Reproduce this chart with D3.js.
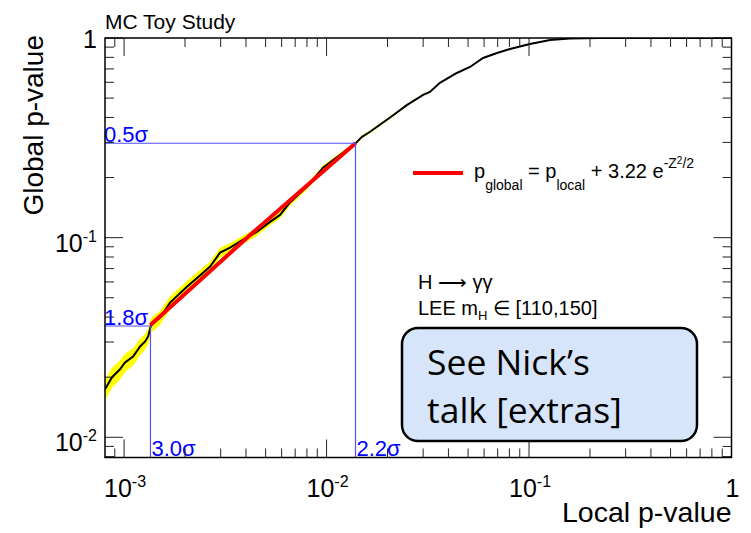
<!DOCTYPE html>
<html lang="en">
<head>
<meta charset="UTF-8">
<title>MC Toy Study</title>
<style>
  html, body { margin: 0; padding: 0; background: #fff; overflow: hidden; }
  svg text { font-family: "Liberation Sans", Arial, Helvetica, sans-serif; }
</style>
</head>
<body>
<svg id="chart" width="751" height="533"></svg>
<script src="https://cdn.jsdelivr.net/npm/d3@7/dist/d3.min.js"></script>
<script>
// toy scan: local p-value vs global p-value
const localP = [8.05e-4, 8.72e-4, 9.55e-4, 1.011e-3, 1.108e-3, 1.2e-3, 1.271e-3, 1.315e-3, 1.359e-3,
  1.507e-3, 1.687e-3, 2.05e-3, 2.37e-3, 2.66e-3, 2.98e-3, 3.34e-3, 3.87e-3, 4.54e-3, 5.26e-3,
  5.89e-3, 6.6e-3, 8.01e-3, 9.61e-3, 1.167e-2, 1.383e-2, 1.497e-2, 1.64e-2, 2.06e-2, 2.5e-2,
  3.0e-2, 3.24e-2, 3.63e-2, 4.4e-2, 5.11e-2, 5.93e-2, 6.95e-2, 8.05e-2, 0.101, 0.127, 0.159,
  0.224, 1.0];
const globalP = [0.0174, 0.0200, 0.0219, 0.0237, 0.0254, 0.0285, 0.0302, 0.0320, 0.0365,
  0.0398, 0.0473, 0.0569, 0.0646, 0.0716, 0.0841, 0.0891, 0.0977, 0.107, 0.120,
  0.130, 0.150, 0.180, 0.224, 0.260, 0.295, 0.320, 0.339, 0.400, 0.462,
  0.519, 0.537, 0.596, 0.668, 0.716, 0.794, 0.841, 0.881, 0.933, 0.977, 0.994,
  1.0, 1.0];
// relative half-width of the yellow band
const bandErr = [0.12, 0.115, 0.11, 0.105, 0.1, 0.095, 0.09, 0.09, 0.085,
  0.08, 0.075, 0.07, 0.065, 0.06, 0.058, 0.055, 0.05, 0.045, 0.042,
  0.04, 0.036, 0.032, 0.028, 0.024, 0.02, 0.018, 0.016, 0.013, 0.011,
  0.009, 0.008, 0.007, 0.006, 0.005, 0.004, 0.003, 0.002, 0.002, 0.001, 0.001,
  0, 0];

// red fit line
const fitLocal = [1.35e-3, 4.3e-3, 1.39e-2];
const fitGlobal = [0.0365, 0.1055, 0.297];

// sigma markers
const sigmaLocal = [1.35e-3, 1.39e-2];
const sigmaLocalLabel = ['3.0σ', '2.2σ'];
const sigmaGlobal = [0.0361, 0.297];
const sigmaGlobalLabel = ['1.8σ', '0.5σ'];

const xMajor = [1e-3, 1e-2, 1e-1, 1];
const xTickLabels = [['10', '-3'], ['10', '-2'], ['10', '-1'], ['1', '']];
const yMajor = [1e-2, 1e-1, 1];
const yTickLabels = [['10', '-2'], ['10', '-1'], ['1', '']];

const svg = d3.select('#chart');
const L = 105, R = 731.5, T = 38, B = 457.5;

const x = d3.scaleLog().domain([8.05e-4, 1]).range([L, R]);
const y = d3.scaleLog().domain([7.92e-3, 1]).range([B, T]);

const pts = localP.map((p, i) => ({ x: p, y: globalP[i], e: bandErr[i] }));

const plot = svg.append('g');

// clip to frame
svg.append('clipPath').attr('id', 'frame')
  .append('rect').attr('x', L).attr('y', T).attr('width', R - L).attr('height', B - T);
plot.attr('clip-path', 'url(#frame)');

// yellow band
plot.append('path')
  .datum(pts)
  .attr('fill', '#ffff00')
  .attr('d', d3.area()
    .x(d => x(d.x))
    .y0(d => y(d.y * (1 - d.e)))
    .y1(d => y(Math.min(d.y * (1 + d.e), 1))));

// black curve
plot.append('path')
  .datum(pts)
  .attr('fill', 'none')
  .attr('stroke', '#000')
  .attr('stroke-width', 2)
  .attr('d', d3.line().x(d => x(d.x)).y(d => y(d.y)));

// red fit
plot.append('path')
  .datum(fitLocal.map((p, i) => [p, fitGlobal[i]]))
  .attr('fill', 'none')
  .attr('stroke', '#ff0000')
  .attr('stroke-width', 4)
  .attr('d', d3.line().x(d => x(d[0])).y(d => y(d[1])));

// blue sigma lines
sigmaLocal.forEach((p, i) => {
  const g = sigmaGlobal[i];
  plot.append('path')
    .attr('fill', 'none')
    .attr('stroke', '#5050ff')
    .attr('stroke-width', 1.2)
    .attr('d', `M${L},${y(g)}H${x(p)}V${B}`);
  svg.append('text')
    .attr('x', L - 1).attr('y', y(g) - 1)
    .attr('font-size', 22).attr('fill', '#0000ff')
    .text(sigmaGlobalLabel[i]);
  svg.append('text')
    .attr('x', x(p) + 1).attr('y', B - 2)
    .attr('font-size', 22).attr('fill', '#0000ff')
    .text(sigmaLocalLabel[i]);
});

// ticks on all four sides
const isMajor = v => Math.abs(Math.log10(v) - Math.round(Math.log10(v))) < 1e-6;
const tk = svg.append('g').attr('stroke', '#222').attr('stroke-width', 1);
x.ticks().forEach(v => {
  const len = isMajor(v) ? 18 : 9;
  const px = x(v);
  tk.append('line').attr('x1', px).attr('x2', px).attr('y1', B).attr('y2', B - len);
  tk.append('line').attr('x1', px).attr('x2', px).attr('y1', T).attr('y2', T + len);
});
y.ticks().forEach(v => {
  const len = isMajor(v) ? 18 : 9;
  const py = y(v);
  tk.append('line').attr('x1', L).attr('x2', L + len).attr('y1', py).attr('y2', py);
  tk.append('line').attr('x1', R).attr('x2', R - len).attr('y1', py).attr('y2', py);
});

// frame
svg.append('rect')
  .attr('x', L).attr('y', T).attr('width', R - L).attr('height', B - T)
  .attr('fill', 'none').attr('stroke', '#000').attr('stroke-width', 1.5);

// tick labels
xMajor.forEach((v, i) => {
  const t = svg.append('text')
    .attr('x', x(v) + 1).attr('y', 497)
    .attr('text-anchor', 'middle')
    .attr('font-size', 25);
  t.append('tspan').text(xTickLabels[i][0]);
  if (xTickLabels[i][1]) {
    t.append('tspan').attr('dy', -10).attr('font-size', 16).text(xTickLabels[i][1]);
  }
});
yMajor.forEach((v, i) => {
  const t = svg.append('text')
    .attr('x', 97).attr('y', y(v) + (yTickLabels[i][1] ? 14 : 10))
    .attr('text-anchor', 'end')
    .attr('font-size', 25);
  t.append('tspan').text(yTickLabels[i][0]);
  if (yTickLabels[i][1]) {
    t.append('tspan').attr('dy', -10).attr('font-size', 16).text(yTickLabels[i][1]);
  }
});

// titles
svg.append('text')
  .attr('x', L).attr('y', 29)
  .attr('font-size', 21)
  .text('MC Toy Study');

svg.append('text')
  .attr('transform', 'translate(43,35) rotate(-90)')
  .attr('text-anchor', 'end')
  .attr('font-size', 28)
  .text('Global p-value');

svg.append('text')
  .attr('x', R).attr('y', 522)
  .attr('text-anchor', 'end')
  .attr('font-size', 28.5)
  .text('Local p-value');

// legend
svg.append('line')
  .attr('x1', 413).attr('x2', 463).attr('y1', 173).attr('y2', 173)
  .attr('stroke', '#ff0000').attr('stroke-width', 4);
const leg = svg.append('text').attr('x', 474).attr('y', 178).attr('font-size', 20);
leg.append('tspan').text('p');
leg.append('tspan').attr('dy', 12).attr('font-size', 14).text('global');
leg.append('tspan').attr('dy', -12).text(' = p');
leg.append('tspan').attr('dy', 12).attr('font-size', 14).text('local');
leg.append('tspan').attr('dy', -12).text(' + 3.22 e');
leg.append('tspan').attr('dy', -10).attr('font-size', 14).text('-Z');
leg.append('tspan').attr('dy', -4).attr('font-size', 10).text('2');
leg.append('tspan').attr('dy', 4).attr('font-size', 14).text('/2');

// channel info
svg.append('text')
  .attr('x', 418).attr('y', 289).attr('font-size', 20)
  .text('H ⟶ γγ');
const lee = svg.append('text').attr('x', 418).attr('y', 315).attr('font-size', 20);
lee.append('tspan').text('LEE m');
lee.append('tspan').attr('dy', 5).attr('font-size', 13).text('H');
lee.append('tspan').attr('dy', -5).text(' ∈ [110,150]');

// note box
svg.append('rect')
  .attr('x', 402).attr('y', 328).attr('width', 295).attr('height', 113)
  .attr('rx', 16).attr('ry', 16)
  .attr('fill', '#d6e5f9').attr('stroke', '#000').attr('stroke-width', 2.5);
['See Nick’s', 'talk [extras]'].forEach((s, i) => {
  svg.append('text')
    .attr('x', 427).attr('y', 375 + i * 48)
    .style('font-family', '"Open Sans", "Noto Sans", sans-serif')
    .attr('font-size', 35.5)
    .text(s);
});
</script>
</body>
</html>
